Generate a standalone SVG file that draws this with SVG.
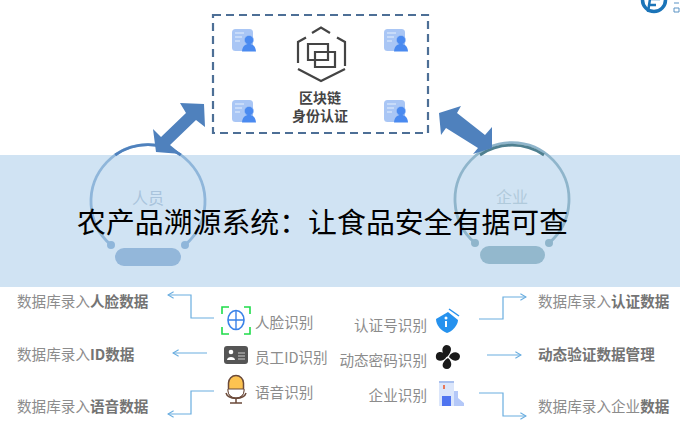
<svg xmlns="http://www.w3.org/2000/svg" xmlns:xlink="http://www.w3.org/1999/xlink" width="680" height="441" viewBox="0 0 680 441">
<style>
text{font-family:"Noto Sans CJK SC","Noto Sans",sans-serif}
.t{font-size:14.6px;fill:#8c8c8c}
.t tspan.b,.b{font-weight:700;fill:#747474}
.l{font-size:14.6px;fill:#8c8c8c}
.e{text-anchor:end}
.c{fill:none;stroke:#6aaee0;stroke-width:1.2;marker-end:url(#a)}
.big{fill:#4f81bd}
.hx{fill:none;stroke:#444;stroke-width:2.2}
</style>
<defs>
<marker id="a" viewBox="0 0 10 10" refX="9" refY="5" markerWidth="8" markerHeight="8" orient="auto" markerUnits="userSpaceOnUse"><path d="M2 1L9 5L2 9" fill="none" stroke="#6aaee0" stroke-width="1.4"/></marker>
<g id="card">
<rect x="0" y="0" width="21" height="22" rx="3.5" fill="#a9c6f5"/>
<path d="M3 4h9M3 8h7M3 12h5" stroke="#e6effd" stroke-width="1.2"/>
<circle cx="17" cy="11" r="4.6" fill="#4a8af0" stroke="#a9c6f5" stroke-width=".5"/>
<path d="M10 22.500C10.500 17 13 15 17 15S23.500 17 24 22.500Z" fill="#4a8af0"/>
</g>
</defs>
<rect width="680" height="441" fill="#fff"/>
<g id="band"><rect x="0" y="155" width="680" height="132" fill="#d0e3f3"/></g>

<g id="logo">
<circle cx="654" cy="0" r="11.500" fill="none" stroke="#1b74b8" stroke-width="3.500"/>
<path d="M650 -1L660 -1M649 5H656M650 -1L648 12" fill="none" stroke="#1b74b8" stroke-width="2.500"/>
<path d="M674 3h5M674 8h5v4h-5z" fill="none" stroke="#5b93c4" stroke-width="1"/>
</g>

<g id="blockchain">
<rect x="213" y="15" width="215" height="118" fill="#fff" stroke="#4d6f96" stroke-width="2.200" stroke-dasharray="8 5"/>
<use xlink:href="#card" href="#card" x="232" y="29"/>
<use xlink:href="#card" href="#card" x="384" y="29"/>
<use xlink:href="#card" href="#card" x="232" y="100"/>
<use xlink:href="#card" href="#card" x="384" y="100"/>
<path class="hx" d="M312 33L321 27.500L330 33M337 37.500L345 42V66M345 69L321 81L298 69M298 63V42L306 37.500"/>
<path class="hx" stroke-width="2" d="M308 44H328V60H308ZM315 52H335V67H315Z"/>
<text x="320" y="102.500" text-anchor="middle" font-size="14" font-weight="700" fill="#444">区块链</text>
<text x="320" y="120.500" text-anchor="middle" font-size="14" font-weight="700" fill="#444">身份认证</text>
</g>

<g id="person">
<path d="M111 245A57 57 0 1 1 185 245" fill="none" stroke="#8fb6da" stroke-width="2.800"/>
<path d="M115.200 155A57 57 0 0 1 180.800 155" fill="none" stroke="#4f81bd" stroke-width="2.800"/>
<circle cx="111" cy="245" r="4" fill="#8fb6da"/>
<circle cx="185" cy="245" r="4" fill="#8fb6da"/>
<rect x="115" y="248" width="66" height="18" rx="9" fill="#93b7da"/>
<text x="148" y="204" text-anchor="middle" font-size="16" fill="#a9c3dc">人员</text>
</g>

<g id="enterprise">
<path d="M475 243A57 57 0 1 1 549 243" fill="none" stroke="#8fb5cb" stroke-width="2.800"/>
<path d="M480 155A57 57 0 0 1 544 155" fill="none" stroke="#4f8090" stroke-width="2.800"/>
<circle cx="475" cy="243" r="4" fill="#8fb5cb"/>
<circle cx="549" cy="243" r="4" fill="#8fb5cb"/>
<rect x="480" y="246" width="65" height="18" rx="9" fill="#93b8cd"/>
<text x="512" y="203" text-anchor="middle" font-size="16" fill="#b0cadb">企业</text>
</g>

<g id="connectors">
<polygon class="big" points="204,104 180,103 186,113 161,137 153,129 156,152 181,154 170,145 196,120 205,127"/>
<polygon class="big" points="439,113 461,106 457,113 485,135 492,127 492,148 473,154 478,148 446,128 441,135"/>
<path class="c" d="M214 318H191V295H168"/>
<path class="c" d="M207 353H173"/>
<path class="c" d="M214 391H191V414H168"/>
<path class="c" d="M479 319H503V297H526"/>
<path class="c" d="M487 355H521"/>
<path class="c" d="M479 393H503V416H526"/>
</g>

<g id="face">
<path d="M222 314V307H229M244 307H250V314M222 327V334H229M244 334H250V327" fill="none" stroke="#1fdc4a" stroke-width="1.600"/>
<ellipse cx="236" cy="320" rx="8" ry="9.500" fill="none" stroke="#3a82e8" stroke-width="1.600"/>
<path d="M228 320H244M236 310.500V329.500" stroke="#3a82e8" stroke-width="1.400"/>
<text class="l" x="255" y="328">人脸识别</text>
<text class="t" x="17" y="307">数据库录入<tspan class="b">人脸数据</tspan></text>
</g>
<g id="staff">
<rect x="224" y="346" width="24" height="18" rx="3" fill="#555"/>
<circle cx="231" cy="352" r="2.300" fill="#fff"/>
<path d="M227 360C227 356 235 356 235 360Z" fill="#fff"/>
<path d="M238 353H245M238 356H245M238 359H245" stroke="#ccc" stroke-width="1"/>
<text class="l" x="255" y="363">员工ID识别</text>
<text class="t" x="17" y="360">数据库录入<tspan class="b">ID数据</tspan></text>
</g>
<g id="voice">
<rect x="228.500" y="375.500" width="15" height="23" rx="7.500" fill="#fcc350" stroke="#6b4a3a" stroke-width="1.500"/>
<path d="M228 389H244V391A8 7 0 0 1 228 391Z" fill="#fff" stroke="#6b4a3a" stroke-width="1"/>
<path d="M226 393C228 400 244 400 246 393M236 398V403M230 403H242" fill="none" stroke="#6b4a3a" stroke-width="1.500"/>
<text class="l" x="255" y="398">语音识别</text>
<text class="t" x="17" y="412">数据库录入<tspan class="b">语音数据</tspan></text>
</g>
<g id="cert">
<path d="M436 319L448 312L458 320C458 325 452 332 447 333C441 331 436 325 436 319Z" fill="#2692ee"/>
<path d="M449 309L459 316" stroke="#2692ee" stroke-width="1.500" fill="none"/>
<circle cx="446" cy="318" r="1.500" fill="#fff"/>
<path d="M446 321V327" stroke="#fff" stroke-width="2"/>
<text class="l e" x="427" y="331">认证号识别</text>
<text class="t" x="538" y="307">数据库录入<tspan class="b">认证数据</tspan></text>
</g>
<g id="otp">
<path d="M447 357C441 354 441 346 446 345C452 345 453 351 447 357ZM449 357C451 351 459 351 460 356C460 362 453 362 449 357ZM448 358C453 362 452 369 447 369C441 369 441 362 448 358ZM447 356C444 362 437 362 436 358C435 351 442 350 447 356Z" fill="#1a1a1a"/>
<text class="l e" x="427" y="366">动态密码识别</text>
<text class="b" x="538" y="360" font-size="14.600">动态验证数据管理</text>
</g>
<g id="company">
<rect x="439" y="382" width="15" height="24" fill="#dbe6fb"/>
<rect x="439" y="381" width="15" height="2" fill="#a9c0ee"/>
<path d="M454 391H458V398L464 403V406H454Z" fill="#b4c8f8"/>
<rect x="442" y="396" width="9" height="10" fill="#4f74f0"/>
<rect x="443" y="385" width="2" height="4" fill="#e8785a"/>
<text class="l e" x="427" y="401">企业识别</text>
<text class="t" x="538" y="412">数据库录入企业<tspan class="b">数据</tspan></text>
</g>

<text id="title" x="77" y="233" font-size="28.900" fill="#000">农产品溯源系统：让食品安全有据可查</text>
</svg>
